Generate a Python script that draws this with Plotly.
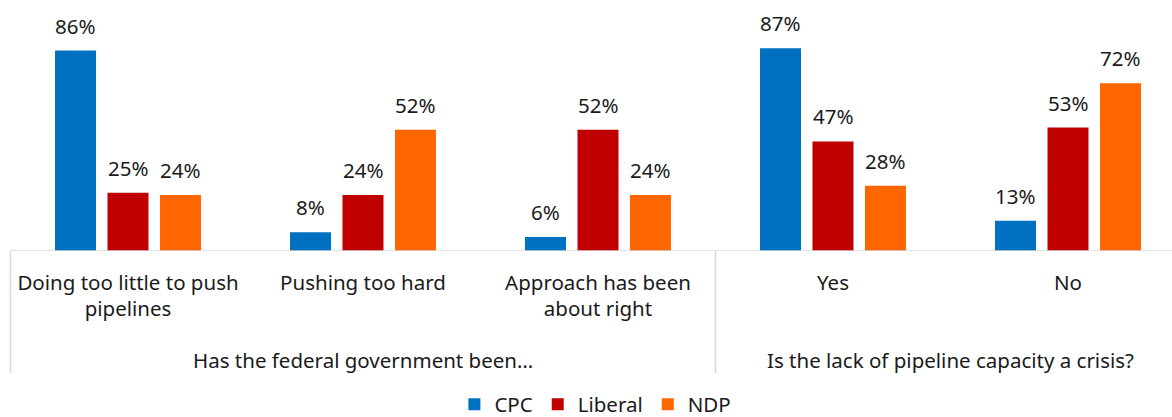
import plotly.graph_objects as go

categories = [
    "Doing too little to push<br>pipelines",
    "Pushing too hard",
    "Approach has been<br>about right",
    "Yes",
    "No",
]
group_labels = ["Has the federal government been…", "Is the lack of pipeline capacity a crisis?"]
group_spans = [(0, 2), (3, 4)]

series_names = ["CPC", "Liberal", "NDP"]
cpc = [86, 8, 6, 87, 13]
liberal = [25, 24, 52, 47, 53]
ndp = [24, 52, 24, 28, 72]
series_values = [cpc, liberal, ndp]
colors = ["#0070C0", "#C00000", "#FF6600"]

FONT = "Noto Sans, Open Sans, sans-serif"
FONT_SIZE = 20.5
TEXT_COLOR = "#1a1a1a"
LINE_COLOR = "#d9d9d9"

W, H = 1172, 417
TOP, BOTTOM = 18, 166
PLOT_H = H - TOP - BOTTOM
cat_px = 235.0          # width of one category slot in pixels
first_px = 128.0        # pixel centre of the first category
x_lo = -first_px / cat_px
x_hi = (W - first_px) / cat_px

bargap = 0.33
bargroupgap = 0.219
slot = (1 - bargap) / len(series_names)  # slot width per series, in category units

fig = go.Figure()
for name, vals, col in zip(series_names, series_values, colors):
    fig.add_trace(go.Bar(
        name=name,
        x=list(range(len(categories))),
        y=vals,
        marker=dict(color=col, line=dict(width=0)),
        hoverinfo="skip",
    ))

# value labels above each bar
annotations = []
for s, vals in enumerate(series_values):
    offset = (s - (len(series_names) - 1) / 2) * slot
    for i, v in enumerate(vals):
        annotations.append(dict(
            x=i + offset, y=v, xref="x", yref="y",
            text=f"{v}%", showarrow=False,
            yanchor="middle", yshift=25,
            font=dict(family=FONT, size=FONT_SIZE, color=TEXT_COLOR),
        ))

# group labels under the category labels
for label, (a, b) in zip(group_labels, group_spans):
    annotations.append(dict(
        x=(a + b) / 2, y=0, xref="x", yref="y",
        text=label, showarrow=False,
        yanchor="middle", yshift=-109,
        font=dict(family=FONT, size=FONT_SIZE, color=TEXT_COLOR),
    ))

# axis line and group separators
shapes = [dict(
    type="line", xref="x", yref="y",
    x0=-0.5, x1=x_hi, y0=0, y1=0,
    line=dict(color=LINE_COLOR, width=1.5),
)]
for a, b in group_spans:
    shapes.append(dict(
        type="line", xref="x", yref="paper",
        x0=a - 0.5, x1=a - 0.5, y0=0, y1=-122 / PLOT_H,
        line=dict(color=LINE_COLOR, width=1.5),
    ))

fig.update_layout(
    width=W, height=H,
    margin=dict(l=0, r=0, t=TOP, b=BOTTOM, autoexpand=False),
    paper_bgcolor="white", plot_bgcolor="white",
    barmode="group", bargap=bargap, bargroupgap=bargroupgap,
    showlegend=True,
    legend=dict(
        orientation="h", x=0.508, xanchor="center",
        yref="container", y=0.03, yanchor="middle",
        font=dict(family=FONT, size=FONT_SIZE, color=TEXT_COLOR),
        itemwidth=30, tracegroupgap=0,
    ),
    xaxis=dict(
        range=[x_lo, x_hi], tickmode="array",
        tickvals=list(range(len(categories))), ticktext=categories,
        showgrid=False, zeroline=False, showline=False, ticks="",
        tickfont=dict(family=FONT, size=FONT_SIZE, color=TEXT_COLOR),
        ticklabelstandoff=17, automargin=False,
        fixedrange=True,
    ),
    yaxis=dict(
        range=[0, 100], visible=False, showgrid=False, zeroline=False,
        fixedrange=True, automargin=False,
    ),
    annotations=annotations,
    shapes=shapes,
)

fig.write_html("out.html", config={"displayModeBar": False})
